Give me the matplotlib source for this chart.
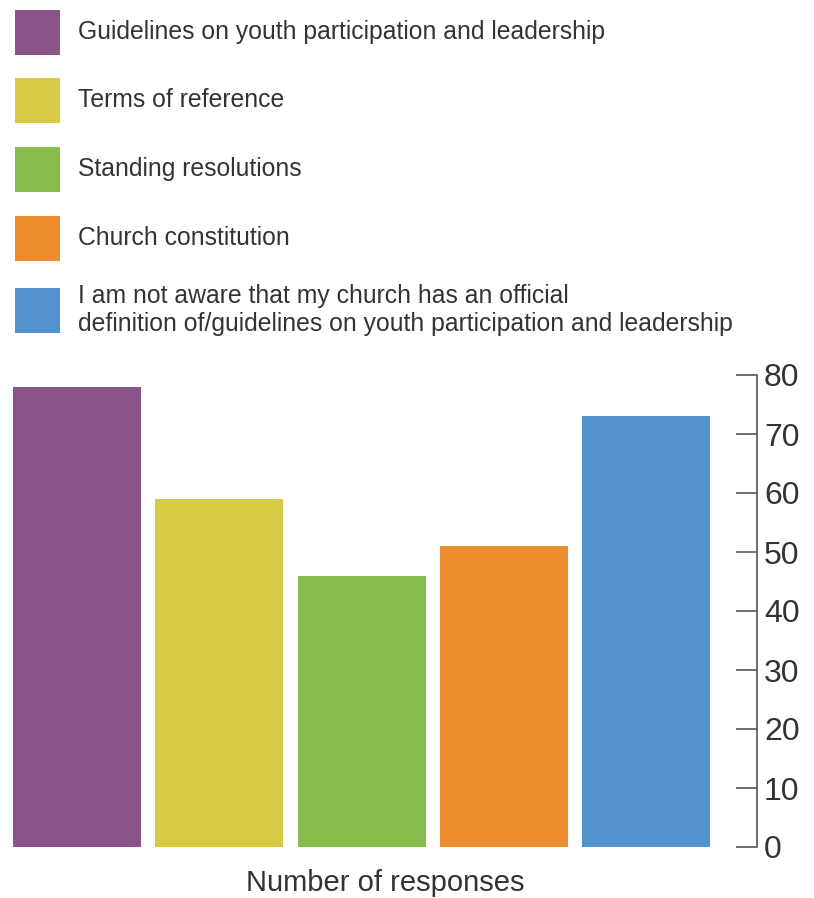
import matplotlib
matplotlib.use("Agg")
import matplotlib.pyplot as plt
from matplotlib.patches import Rectangle

# Данные
categories = [
    "Guidelines on youth participation and leadership",
    "Terms of reference",
    "Standing resolutions",
    "Church constitution",
    "I am not aware that my church has an official\ndefinition of/guidelines on youth participation and leadership",
]
responses = [78, 59, 46, 51, 73]
colors = ["#8A5488", "#D7CA45", "#86BC4A", "#EC8C2D", "#5192CF"]
yticks = [0, 10, 20, 30, 40, 50, 60, 70, 80]

plt.rcParams['font.family'] = ['Liberation Sans Narrow', 'Liberation Sans', 'DejaVu Sans']
text_color = "#333333"
axis_color = "#555555"

W, H = 814, 898
fig = plt.figure(figsize=(W / 100, H / 100), dpi=100)

# Оси графика (в пикселях: слева 13, справа 757, низ 847, верх 375)
ax = fig.add_axes([13 / W, (H - 847) / H, (757 - 13) / W, (847 - 375) / H])
ax.bar(range(len(responses)), responses, width=0.9, color=colors)
ax.set_xlim(-0.45, 4.78)
ax.set_ylim(0, 80)

for s in ["top", "left", "bottom"]:
    ax.spines[s].set_visible(False)
ax.spines["right"].set_color(axis_color)
ax.spines["right"].set_linewidth(1.2)
ax.yaxis.tick_right()
ax.set_yticks(yticks)
ax.tick_params(axis="y", direction="in", length=15, width=1.2, color=axis_color,
               labelsize=23, labelcolor=text_color, pad=5)
ax.set_xticks([])
ax.set_xlabel("Number of responses", fontsize=21, color=text_color, labelpad=16)

# Легенда вручную
rows_y = [32, 100, 169, 238, 310]
for label, c, y in zip(categories, colors, rows_y):
    fig.add_artist(Rectangle(((15) / W, (H - y - 22.5) / H), 45 / W, 45 / H,
                             transform=fig.transFigure, color=c, lw=0))
    fig.text(78 / W, (H - y) / H, label, fontsize=17.8, color=text_color,
             va="center", ha="left", linespacing=1.25)

fig.savefig("out.png", dpi=100)
